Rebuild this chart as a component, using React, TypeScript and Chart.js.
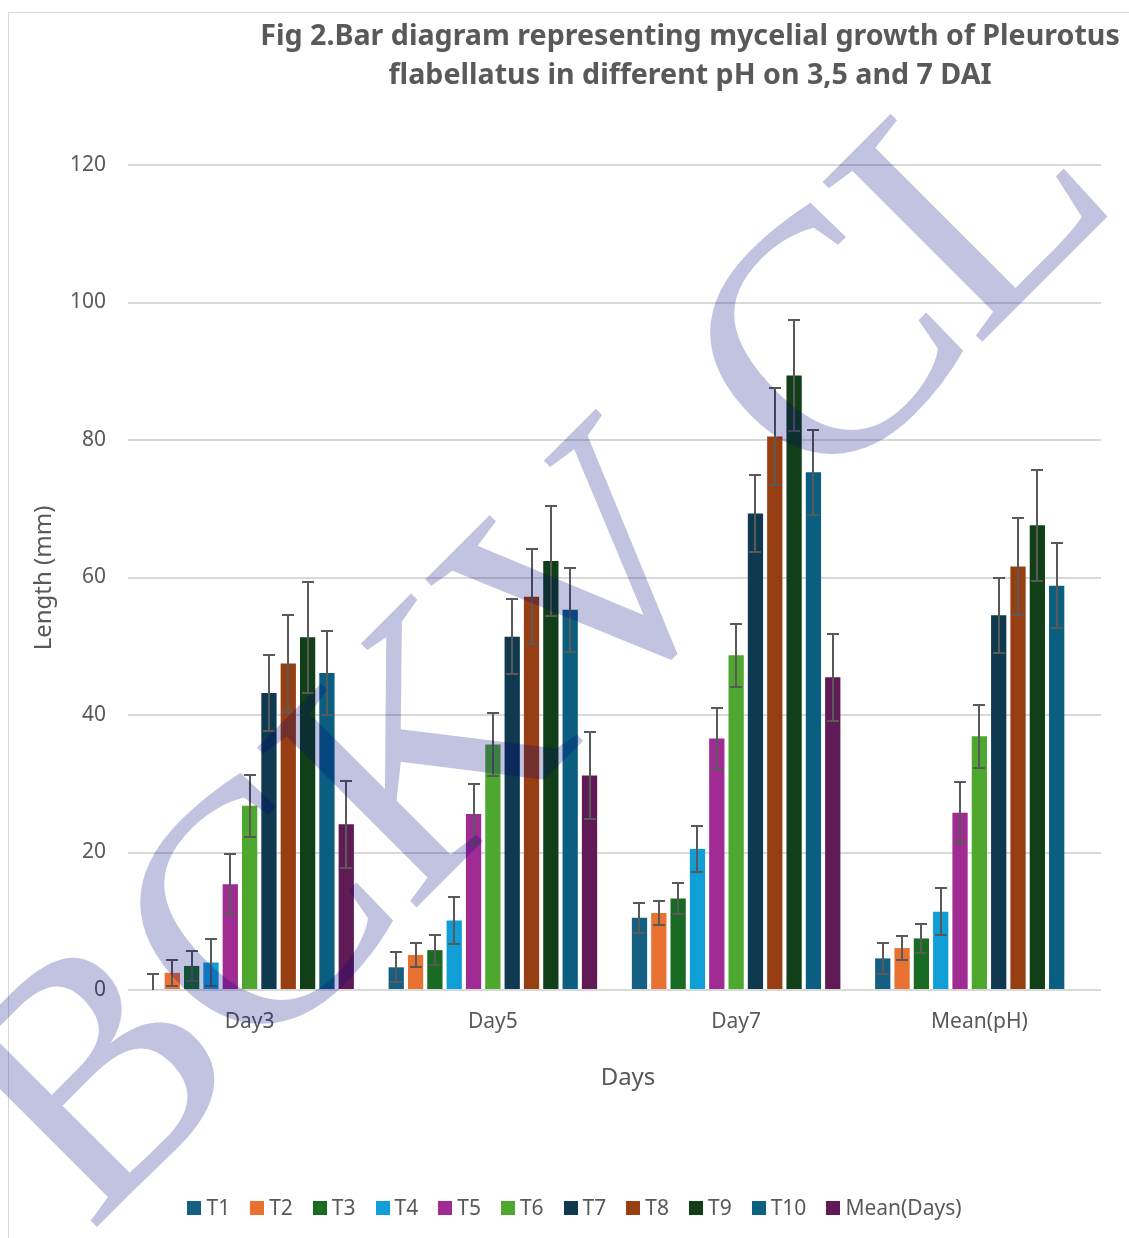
import React, { useEffect, useRef } from "react";
import { Chart, registerables } from "chart.js";

Chart.register(...registerables);

// ---------------- data ----------------
const categories = ["Day3", "Day5", "Day7", "Mean(pH)"];
const seriesNames = ["T1", "T2", "T3", "T4", "T5", "T6", "T7", "T8", "T9", "T10", "Mean(Days)"];

const t1 = [0, 3.3, 10.5, 4.6];
const t2 = [2.5, 5.1, 11.2, 6.1];
const t3 = [3.5, 5.8, 13.3, 7.5];
const t4 = [4.0, 10.1, 20.5, 11.4];
const t5 = [15.4, 25.6, 36.6, 25.8];
const t6 = [26.8, 35.7, 48.7, 36.9];
const t7 = [43.2, 51.4, 69.3, 54.5];
const t8 = [47.5, 57.2, 80.5, 61.6];
const t9 = [51.3, 62.4, 89.4, 67.6];
const t10 = [46.1, 55.3, 75.3, 58.8];
const meanDays = [24.1, 31.2, 45.5, null];

const errT1 = [2.3, 2.2, 2.2, 2.2];
const errT2 = [1.9, 1.8, 1.8, 1.8];
const errT3 = [2.2, 2.2, 2.2, 2.1];
const errT4 = [3.4, 3.4, 3.4, 3.4];
const errT5 = [4.4, 4.4, 4.4, 4.4];
const errT6 = [4.5, 4.6, 4.6, 4.6];
const errT7 = [5.5, 5.5, 5.6, 5.5];
const errT8 = [7.0, 6.9, 7.0, 7.0];
const errT9 = [8.1, 8.0, 8.1, 8.1];
const errT10 = [6.1, 6.1, 6.2, 6.2];
const errMean = [6.3, 6.3, 6.3, null];

const yTickMin = 0;
const yTickMax = 120;
const yTickStep = 20;

const titleLines = [
  "Fig 2.Bar diagram representing mycelial growth of Pleurotus",
  "flabellatus in different pH on 3,5 and 7 DAI",
];
const yAxisTitle = "Length (mm)";
const xAxisTitle = "Days";
const watermarkLetters = ["B", "C", "K", "V", "C", "L"];

// ---------------- styles ----------------
const seriesColors = [
  "#156082",
  "#E97132",
  "#196B24",
  "#0F9ED5",
  "#A02B93",
  "#4EA72E",
  "#0E394E",
  "#973F12",
  "#113F18",
  "#0A5E80",
  "#601A56",
];
const FONT = "'Noto Sans', 'Liberation Sans', sans-serif";
const TEXT = "#595959";
const W = 1129;
const H = 1238;
const watermarkSize = 345;
const watermarkOffsets = [-10, 216, 442, 686, 1022, 1242];

const seriesValues = [t1, t2, t3, t4, t5, t6, t7, t8, t9, t10, meanDays];
const seriesErrors = [errT1, errT2, errT3, errT4, errT5, errT6, errT7, errT8, errT9, errT10, errMean];

const backgroundPlugin = {
  id: "bgBorder",
  beforeDraw(chart: any) {
    const ctx = chart.ctx;
    ctx.save();
    ctx.fillStyle = "#ffffff";
    ctx.fillRect(0, 0, chart.width, chart.height);
    ctx.strokeStyle = "#d9d9d9";
    ctx.lineWidth = 1;
    ctx.strokeRect(8.5, 12.5, 1400, 1400);
    ctx.restore();
  },
};

const errorBarPlugin = {
  id: "errorBars",
  afterDatasetsDraw(chart: any) {
    const ctx = chart.ctx;
    const ys = chart.scales.y;
    const a = chart.chartArea;
    ctx.save();
    ctx.beginPath();
    ctx.rect(a.left, a.top - 10, a.right - a.left, a.bottom - a.top + 10);
    ctx.clip();
    ctx.strokeStyle = TEXT;
    ctx.lineWidth = 2;
    chart.data.datasets.forEach((ds: any, i: number) => {
      const meta = chart.getDatasetMeta(i);
      meta.data.forEach((bar: any, j: number) => {
        const v = ds.data[j];
        const e = ds.errors[j];
        if (v == null || e == null) return;
        const x = Math.round(bar.x);
        const yt = Math.round(ys.getPixelForValue(v + e));
        const yb = Math.round(ys.getPixelForValue(v - e));
        const cap = 6;
        ctx.beginPath();
        ctx.moveTo(x, yt);
        ctx.lineTo(x, yb);
        ctx.moveTo(x - cap, yt);
        ctx.lineTo(x + cap, yt);
        ctx.moveTo(x - cap, yb);
        ctx.lineTo(x + cap, yb);
        ctx.stroke();
      });
    });
    ctx.restore();
  },
};

const textPlugin = {
  id: "texts",
  afterDraw(chart: any) {
    const ctx = chart.ctx;
    ctx.save();
    // title
    ctx.fillStyle = TEXT;
    ctx.textAlign = "center";
    ctx.textBaseline = "middle";
    ctx.font = `bold 28px ${FONT}`;
    const w0 = ctx.measureText(titleLines[0]).width;
    const size = (28 * 860) / w0;
    ctx.font = `bold ${size}px ${FONT}`;
    ctx.fillText(titleLines[0], 690, 37);
    ctx.fillText(titleLines[1], 690, 76);

    // axis titles
    ctx.font = `24px ${FONT}`;
    ctx.fillText(xAxisTitle, 628, 1078);
    ctx.save();
    ctx.translate(44, 578);
    ctx.rotate(-Math.PI / 2);
    ctx.fillText(yAxisTitle, 0, 0);
    ctx.restore();

    // legend
    ctx.font = `21px ${FONT}`;
    const box = 14;
    const gapText = 5;
    const gapItem = 20;
    const items = chart.data.datasets.map((ds: any) => ({
      label: ds.label,
      color: ds.backgroundColor,
      w: ctx.measureText(ds.label).width,
    }));
    const total =
      items.reduce((s: number, it: any) => s + box + gapText + it.w, 0) + gapItem * (items.length - 1);
    let x = 574.5 - total / 2;
    const yc = 1208;
    ctx.textAlign = "left";
    items.forEach((it: any) => {
      ctx.fillStyle = it.color;
      ctx.fillRect(Math.round(x), yc - box / 2, box, box);
      ctx.fillStyle = TEXT;
      ctx.fillText(it.label, x + box + gapText, yc + 1);
      x += box + gapText + it.w + gapItem;
    });

    // watermark
    ctx.fillStyle = "rgba(0,0,128,0.24)";
    ctx.font = `${watermarkSize}px 'Liberation Serif', 'DejaVu Serif', serif`;
    ctx.textAlign = "left";
    ctx.textBaseline = "alphabetic";
    ctx.translate(97, 1227);
    ctx.rotate(-Math.PI / 4);
    watermarkLetters.forEach((ch, k) => {
      ctx.fillText(ch, watermarkOffsets[k], 0);
    });
    ctx.restore();
  },
};

export default function App() {
  const ref = useRef<HTMLCanvasElement | null>(null);

  useEffect(() => {
    if (!ref.current) return;
    const chart = new Chart(ref.current, {
      type: "bar",
      data: {
        labels: categories,
        datasets: seriesNames.map((name, i) => ({
          label: name,
          data: seriesValues[i] as any,
          errors: seriesErrors[i],
          backgroundColor: seriesColors[i],
          borderWidth: 0,
          categoryPercentage: 0.874,
          barPercentage: 0.79,
        })) as any,
      },
      options: {
        responsive: false,
        animation: false,
        devicePixelRatio: 1,
        layout: { padding: { top: 165, right: 28, bottom: 0, left: 0 } },
        plugins: {
          legend: { display: false },
          title: { display: false },
          tooltip: { enabled: false },
        },
        scales: {
          x: {
            grid: { display: false, drawTicks: false },
            border: { display: false },
            ticks: { color: TEXT, font: { family: FONT, size: 21 }, padding: 19 },
            afterFit: (s: any) => {
              s.height = 248;
            },
          },
          y: {
            min: yTickMin,
            max: yTickMax,
            ticks: { stepSize: yTickStep, color: TEXT, font: { family: FONT, size: 21 }, padding: 22 },
            grid: { color: "#d9d9d9", lineWidth: 2, drawTicks: false },
            border: { display: false },
            afterFit: (s: any) => {
              s.width = 128;
            },
          },
        },
      } as any,
      plugins: [backgroundPlugin, errorBarPlugin, textPlugin],
    });
    return () => chart.destroy();
  }, []);

  return (
    <div style={{ position: "absolute", left: 0, top: 0, width: W, height: H }}>
      <canvas ref={ref} width={W} height={H} style={{ display: "block", width: W, height: H }} />
    </div>
  );
}
